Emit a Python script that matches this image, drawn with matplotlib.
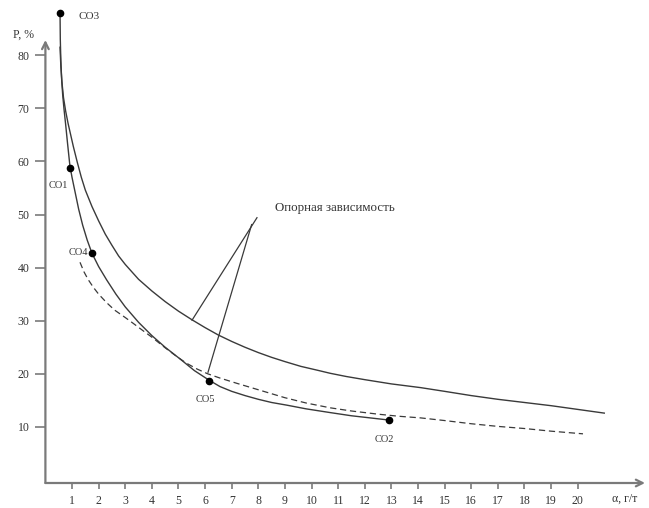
import matplotlib
matplotlib.use("Agg")
import matplotlib.pyplot as plt

plt.rcParams['font.family'] = ['Liberation Serif', 'DejaVu Serif']

# Upper solid curve ("опорная зависимость")
upper_x = [0.55, 0.58, 0.62, 0.68, 0.76, 0.85, 0.95, 1.05, 1.2, 1.35, 1.5, 1.75, 2.0, 2.25, 2.5,
           2.75, 3.0, 3.5, 4.0, 4.5, 5.0, 5.5, 6.0, 6.5, 7.0, 7.5, 8.0, 8.5, 9.0, 9.6, 10.2,
           10.7, 11.3, 12.0, 13.0, 14.1, 15.0, 16.0, 17.0, 18.0, 19.0, 20.0, 21.0]
upper_p = [81.5, 78.0, 75.0, 72.0, 69.5, 67.2, 65.0, 62.8, 59.8, 57.0, 54.6, 51.5, 48.8, 46.3, 44.2,
           42.2, 40.6, 37.8, 35.6, 33.6, 31.8, 30.2, 28.7, 27.3, 26.1, 25.0, 24.0, 23.1, 22.3, 21.4, 20.7,
           20.1, 19.5, 18.9, 18.1, 17.4, 16.7, 15.9, 15.2, 14.6, 14.0, 13.3, 12.6]

# Lower solid curve through measured points
lower_x = [0.55, 0.56, 0.58, 0.61, 0.65, 0.70, 0.76, 0.83, 0.92, 1.0, 1.1, 1.25, 1.4, 1.57, 1.75,
           2.0, 2.3, 2.65, 3.0, 3.5, 4.0, 4.5, 5.06, 5.6, 6.15, 6.56, 7.0, 7.5, 8.0, 8.5, 9.07,
           9.8, 10.7, 11.5, 12.2, 12.9]
lower_p = [87.9, 83.0, 79.0, 75.5, 72.5, 69.8, 67.0, 63.5, 59.2, 57.0, 54.6, 51.0, 48.0, 45.2, 42.7,
           40.2, 37.7, 35.0, 32.6, 29.7, 27.2, 25.0, 22.8, 20.6, 18.8, 17.6, 16.7, 15.9, 15.2, 14.6, 14.1,
           13.4, 12.7, 12.1, 11.7, 11.3]

# Dashed curve
dash_x = [1.3, 1.45, 1.6, 1.8, 2.0, 2.3, 2.6, 3.0, 3.3, 3.7, 4.0, 4.5, 4.95, 5.3, 5.7, 6.1, 6.56,
          7.2, 8.0, 9.0, 9.8, 10.7, 11.5, 12.5, 13.3, 14.1, 15.0, 16.0, 17.0, 18.0, 19.0, 20.2]
dash_p = [41.0, 39.2, 37.8, 36.3, 35.0, 33.4, 32.0, 30.6, 29.5, 28.0, 26.9, 24.9, 23.2, 22.0, 20.9, 20.0, 19.2,
          18.2, 17.0, 15.5, 14.5, 13.6, 13.0, 12.4, 12.0, 11.7, 11.2, 10.6, 10.1, 9.7, 9.2, 8.7]

# Measured points
pt_names = ['CO3', 'CO1', 'CO4', 'CO5', 'CO2']
pt_x = [0.55, 0.92, 1.75, 6.15, 12.9]
pt_p = [87.9, 58.8, 42.7, 18.6, 11.3]

x_ticks = list(range(1, 21))
y_ticks = [10, 20, 30, 40, 50, 60, 70, 80]

W, H = 649, 508
fig = plt.figure(figsize=(W / 100, H / 100), dpi=100)
fig.patch.set_facecolor('white')

# pixel geometry of the axes
x0_px, x1_px = 45.4, 645.0
y0_px, y1_px = 483.0, 40.0
ax = fig.add_axes([x0_px / W, (H - y0_px) / H, (x1_px - x0_px) / W, (y0_px - y1_px) / H])
ax.set_xlim(0, 22.53)
ax.set_ylim(-0.56, 82.86)
ax.set_facecolor('white')

for s in ax.spines.values():
    s.set_visible(False)

axcol = '#7a7a7a'
# axis lines with arrows
ax.annotate('', xy=(1.0, 0), xytext=(0, 0), xycoords='axes fraction',
            arrowprops=dict(arrowstyle='->', color=axcol, lw=1.6, mutation_scale=12,
                            shrinkA=0, shrinkB=0), annotation_clip=False)
ax.annotate('', xy=(0, 1.0), xytext=(0, 0), xycoords='axes fraction',
            arrowprops=dict(arrowstyle='->', color=axcol, lw=1.6, mutation_scale=12,
                            shrinkA=0, shrinkB=0), annotation_clip=False)

ax.set_xticks(x_ticks)
ax.set_xticklabels([str(v) for v in x_ticks])
ax.set_yticks(y_ticks)
ax.set_yticklabels([str(v) for v in y_ticks])
ax.tick_params(axis='x', direction='out', length=4, width=1.2, color=axcol,
               labelsize=8.5, labelcolor='#333333', pad=5)
ax.tick_params(axis='y', direction='out', length=7.5, width=1.2, color=axcol,
               labelsize=8.5, labelcolor='#333333', pad=4)

lc = '#3a3a3a'
ax.plot(upper_x, upper_p, color=lc, lw=1.0, clip_on=False)
ax.plot(lower_x, lower_p, color=lc, lw=1.0, clip_on=False)
ax.plot(dash_x, dash_p, color=lc, lw=0.9, ls=(0, (5, 3)), clip_on=False)
ax.plot(pt_x, pt_p, 'o', color='black', ms=4.5, clip_on=False, zorder=5)

# point labels
tc = '#333333'
ax.text(pt_x[0] + 0.7, pt_p[0] - 0.7, pt_names[0], ha='left', va='center', fontsize=8, color=tc, clip_on=False)
ax.text(0.85, pt_p[1] - 3.4, pt_names[1], ha='right', va='center', fontsize=7.5, color=tc)
ax.text(pt_x[2] - 0.15, pt_p[2] + 0.2, pt_names[2], ha='right', va='center', fontsize=7.5, color=tc)
ax.text(pt_x[3] - 0.15, pt_p[3] - 3.5, pt_names[3], ha='center', va='center', fontsize=7.5, color=tc)
ax.text(pt_x[4] - 0.15, pt_p[4] - 3.7, pt_names[4], ha='center', va='center', fontsize=7.5, color=tc)

# callout
apex = (7.95, 49.4)
ax.plot([apex[0], 5.51], [apex[1], 30.1], color=lc, lw=0.9)
ax.plot([apex[0] - 0.2, 6.11], [apex[1] - 1.3, 20.3], color=lc, lw=0.9)
ax.text(8.63, 51.2, 'Опорная зависимость', ha='left', va='center', fontsize=9.3, color=tc)

# axis titles
fig.text(13 / W, 1 - 35 / H, 'P, %', ha='left', va='center', fontsize=8.5, color=tc)
fig.text(612 / W, 1 - 499 / H, 'α, г/т', ha='left', va='center', fontsize=8.5, color=tc)

fig.savefig('out.png', dpi=100, facecolor='white')
